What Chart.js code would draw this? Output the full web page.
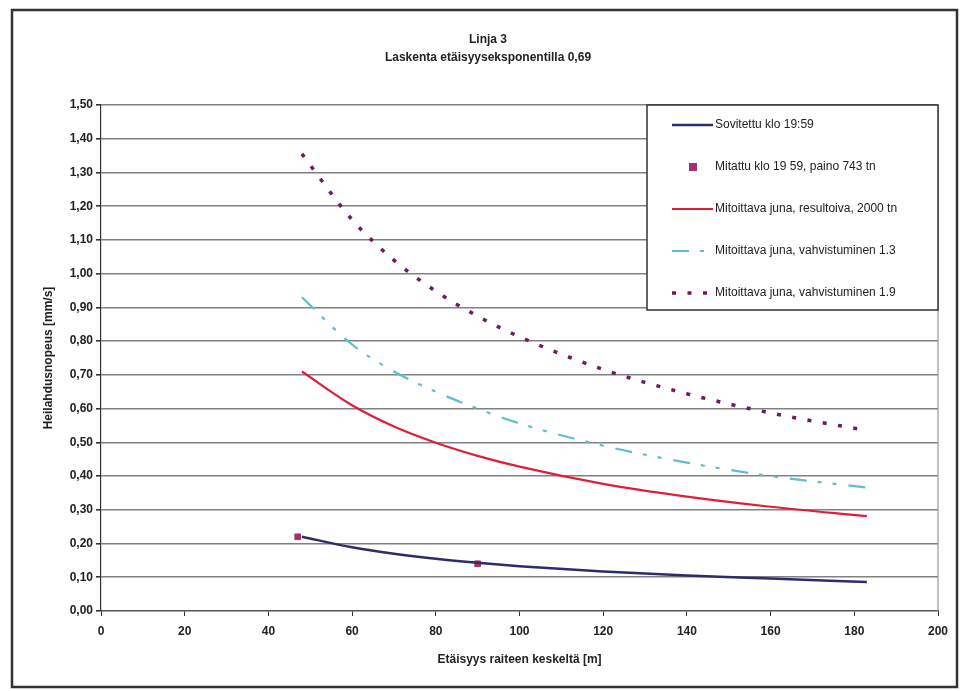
<!DOCTYPE html>
<html>
<head>
<meta charset="utf-8">
<script src="https://cdn.jsdelivr.net/npm/chart.js@4/dist/chart.umd.min.js"></script>
<style>
  body { margin: 0; background: #fff; }
  canvas { display: block; }
</style>
</head>
<body>
<canvas id="chart" width="961" height="691"></canvas>
<script>
const distances = [48, 60, 70, 80, 90, 100, 120, 140, 160, 183];
const fitted = [0.22, 0.189, 0.170, 0.155, 0.143, 0.133, 0.117, 0.105, 0.096, 0.086];
const measuredX = [47, 90];
const measuredY = [0.22, 0.14];
const resultant = [0.71, 0.61, 0.547, 0.499, 0.46, 0.428, 0.377, 0.339, 0.309, 0.281];
const amplified13 = [0.93, 0.79, 0.71, 0.65, 0.60, 0.556, 0.49, 0.44, 0.40, 0.366];
const amplified19 = [1.355, 1.16, 1.04, 0.948, 0.874, 0.813, 0.716, 0.644, 0.587, 0.535];

const labels = [
  "Sovitettu klo 19:59",
  "Mitattu klo 19 59, paino 743 tn",
  "Mitoittava juna, resultoiva, 2000 tn",
  "Mitoittava juna, vahvistuminen 1.3",
  "Mitoittava juna, vahvistuminen 1.9",
];

const xTicks = { min: 0, max: 200, step: 20 };
const yTicks = { min: 0, max: 1.5, step: 0.1 };

const toPoints = (xs, ys) => xs.map((x, i) => ({ x: x, y: ys[i] }));
const FONT = "'Liberation Sans', Arial, sans-serif";

const decor = {
  id: "decor",
  beforeDraw(chart) {
    const ctx = chart.ctx;
    ctx.save();
    ctx.fillStyle = "#fff";
    ctx.fillRect(0, 0, chart.width, chart.height);
    // outer frame of the page
    ctx.strokeStyle = "#333";
    ctx.lineWidth = 2.5;
    ctx.strokeRect(12, 10, 945, 677);
    ctx.restore();
  },
  afterDatasetsDraw(chart) {
    const ctx = chart.ctx;
    const a = chart.chartArea;
    ctx.save();
    // plot area frame
    ctx.strokeStyle = "#999";
    ctx.lineWidth = 1.2;
    ctx.beginPath();
    ctx.moveTo(a.right, a.top);
    ctx.lineTo(a.right, a.bottom);
    ctx.stroke();

    // legend box in the upper right corner
    const w = 291, h = 205;
    const left = a.right - w, top = a.top;
    ctx.fillStyle = "#fff";
    ctx.fillRect(left, top, w, h);
    ctx.strokeStyle = "#333";
    ctx.lineWidth = 1.5;
    ctx.strokeRect(left, top, w, h);

    ctx.font = "12px " + FONT;
    ctx.textBaseline = "middle";
    chart.data.datasets.forEach((ds, i) => {
      const y = top + 20 + i * 42;
      if (ds.showLine === false) {
        ctx.fillStyle = ds.pointBackgroundColor;
        ctx.fillRect(left + 42, y - 4, 8, 8);
      } else {
        ctx.strokeStyle = ds.borderColor;
        ctx.lineWidth = ds.borderWidth;
        ctx.setLineDash(ds.borderDash || []);
        ctx.beginPath();
        ctx.moveTo(left + 25, y);
        ctx.lineTo(left + 66, y);
        ctx.stroke();
        ctx.setLineDash([]);
      }
      ctx.fillStyle = "#222";
      ctx.fillText(ds.label, left + 68, y);
    });
    ctx.restore();
  },
};

new Chart(document.getElementById("chart"), {
  type: "line",
  plugins: [decor],
  data: {
    datasets: [
      {
        label: labels[0],
        data: toPoints(distances, fitted),
        borderColor: "#2d2c6c",
        borderWidth: 2.5,
        pointRadius: 0,
        cubicInterpolationMode: "monotone",
      },
      {
        label: labels[1],
        data: toPoints(measuredX, measuredY),
        showLine: false,
        pointStyle: "rect",
        pointRadius: 4,
        pointBackgroundColor: "#a8306e",
        pointBorderColor: "#a8306e",
        borderColor: "#a8306e",
      },
      {
        label: labels[2],
        data: toPoints(distances, resultant),
        borderColor: "#e01e3c",
        borderWidth: 2.2,
        pointRadius: 0,
        cubicInterpolationMode: "monotone",
      },
      {
        label: labels[3],
        data: toPoints(distances, amplified13),
        borderColor: "#62bccb",
        borderWidth: 2.2,
        borderDash: [17, 11, 4, 11, 4, 12],
        pointRadius: 0,
        cubicInterpolationMode: "monotone",
      },
      {
        label: labels[4],
        data: toPoints(distances, amplified19),
        borderColor: "#6a1c5e",
        borderWidth: 3.5,
        borderDash: [4, 11.5],
        pointRadius: 0,
        cubicInterpolationMode: "monotone",
      },
    ],
  },
  options: {
    responsive: false,
    animation: false,
    layout: { padding: { left: 38, right: 23, top: 25, bottom: 18 } },
    plugins: {
      legend: { display: false },
      tooltip: { enabled: false },
      title: {
        display: true,
        text: ["Linja 3", "Laskenta etäisyyseksponentilla 0,69"],
        color: "#222",
        font: { family: FONT, size: 12, weight: "bold", lineHeight: 1.5 },
        padding: { top: 6, bottom: 38 },
      },
    },
    scales: {
      x: {
        type: "linear",
        min: xTicks.min,
        max: xTicks.max,
        afterFit: (scale) => { scale.height = 62; },
        ticks: {
          stepSize: xTicks.step,
          color: "#222",
          padding: 8,
          maxRotation: 0,
          font: { family: FONT, size: 12, weight: "bold" },
        },
        grid: { drawOnChartArea: false, tickLength: 5, tickColor: "#333" },
        border: { color: "#555", width: 1.2 },
        title: {
          display: true,
          text: "Etäisyys raiteen keskeltä [m]",
          color: "#222",
          font: { family: FONT, size: 12, weight: "bold" },
          padding: { top: 0, bottom: 6 },
        },
      },
      y: {
        min: yTicks.min,
        max: yTicks.max,
        afterFit: (scale) => { scale.width = 63; },
        ticks: {
          stepSize: yTicks.step,
          color: "#222",
          padding: 3,
          font: { family: FONT, size: 12, weight: "bold" },
          callback: (v) => v.toFixed(2).replace(".", ","),
        },
        grid: { color: "#808080", lineWidth: 1.6, tickLength: 5, tickColor: "#333" },
        border: { color: "#333", width: 1.2 },
        title: {
          display: true,
          text: "Heilahdusnopeus [mm/s]",
          color: "#222",
          font: { family: FONT, size: 12, weight: "bold" },
          padding: { top: 3, bottom: 0 },
        },
      },
    },
  },
});
</script>
</body>
</html>
